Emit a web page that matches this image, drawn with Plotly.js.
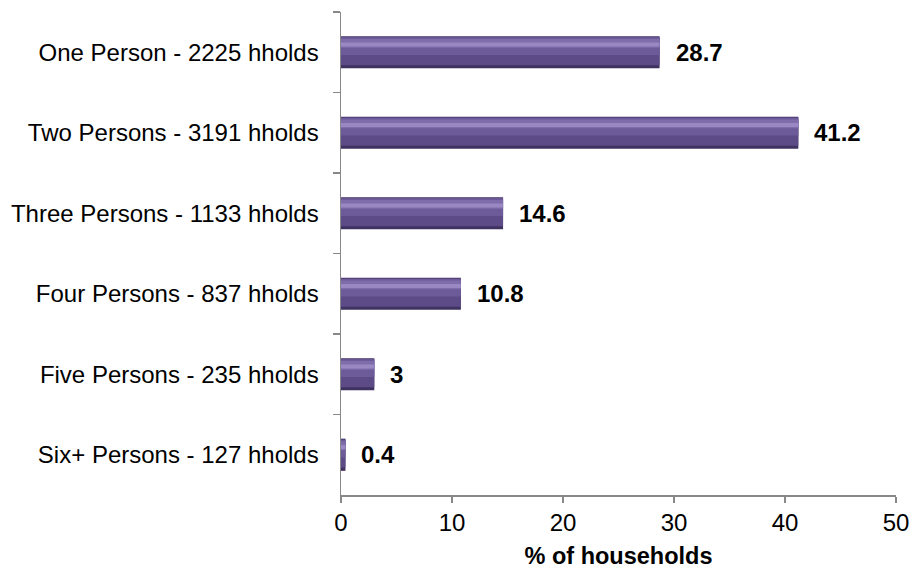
<!DOCTYPE html>
<html>
<head>
<meta charset="utf-8">
<script src="https://cdn.plot.ly/plotly-3.0.1.min.js"></script>
<style>html,body{margin:0;padding:0;background:#fff;}#chart{width:913px;height:569px;}</style>
</head>
<body>
<div id="chart"></div>
<script>
const categories = [
  "One Person - 2225 hholds",
  "Two Persons - 3191 hholds",
  "Three Persons - 1133 hholds",
  "Four Persons - 837 hholds",
  "Five Persons - 235 hholds",
  "Six+ Persons - 127 hholds"
];
const percentValues = [28.7, 41.2, 14.6, 10.8, 3, 0.4];
const valueLabels = ["28.7", "41.2", "14.6", "10.8", "3", "0.4"];
const xTickValues = [0, 10, 20, 30, 40, 50];

function layer(width, offset, color) {
  return {
    type: 'bar', orientation: 'h', x: percentValues, y: categories,
    width: width, offset: offset, marker: {color: color, line: {width: 0}},
    hoverinfo: 'none', showlegend: false
  };
}
const traces = [
  layer(0.4, -0.2, '#3F3160'),
  layer(0.35, -0.19, '#5C4B86'),
  layer(0.22, -0.185, '#6D5A98'),
  layer(0.11, -0.165, '#7F6CAA'),
  layer(0.05, -0.12, '#9A88C2')
];

const annotations = categories.map((c, i) => ({
  x: percentValues[i], y: c, xref: 'x', yref: 'y',
  text: '<b>' + valueLabels[i] + '</b>', showarrow: false,
  xanchor: 'left', xshift: 14,
  font: {family: 'Liberation Sans, Arial, sans-serif', size: 24, color: '#000'}
}));

const layout = {
  width: 913, height: 569,
  margin: {l: 341, r: 17, t: 12, b: 74},
  paper_bgcolor: '#fff', plot_bgcolor: '#fff',
  barmode: 'overlay',
  font: {family: 'Liberation Sans, Arial, sans-serif', size: 24, color: '#000'},
  xaxis: {
    range: [0, 50], tickvals: xTickValues, ticktext: xTickValues.map(String),
    showgrid: false, zeroline: false,
    showline: true, linecolor: '#888', linewidth: 1.5,
    ticks: 'outside', ticklen: 6, tickcolor: '#888', tickwidth: 1.5,
    tickfont: {size: 24},
    title: {text: '<b>% of households</b>', font: {size: 23.5}, standoff: 14}
  },
  yaxis: {
    type: 'category', autorange: 'reversed',
    showgrid: false, zeroline: false,
    showline: true, linecolor: '#888', linewidth: 1.5,
    ticks: 'outside', ticklen: 7, tickcolor: '#888', tickwidth: 1.5,
    tickson: 'boundaries',
    ticklabelstandoff: 16,
    tickfont: {size: 24}
  },
  annotations: annotations
};

Plotly.newPlot('chart', traces, layout, {displayModeBar: false, staticPlot: true});
</script>
</body>
</html>
